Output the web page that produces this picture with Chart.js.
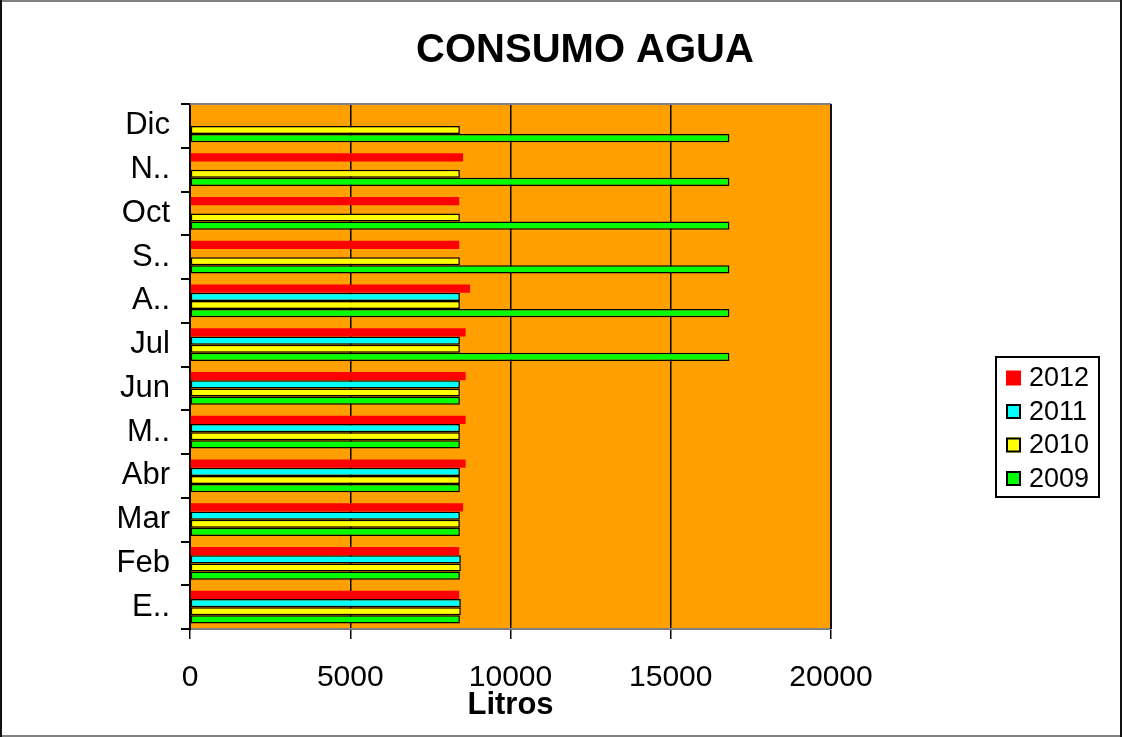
<!DOCTYPE html>
<html>
<head>
<meta charset="utf-8">
<script src="https://cdn.jsdelivr.net/npm/chart.js@4.4.1/dist/chart.umd.min.js"></script>
<style>
  html, body { margin: 0; padding: 0; background: #fff; }
  canvas { display: block; }
</style>
</head>
<body>
<canvas id="consumo" width="1122" height="737"></canvas>
<script>
// datos
const months = ["E..", "Feb", "Mar", "Abr", "M..", "Jun", "Jul", "A..", "S..", "Oct", "N..", "Dic"];
const years = ["2012", "2011", "2010", "2009"];
const litros2012 = [8400, 8400, 8520, 8600, 8600, 8600, 8600, 8740, 8400, 8400, 8520, null];
const litros2011 = [8450, 8450, 8420, 8420, 8420, 8420, 8420, 8420, null, null, null, null];
const litros2010 = [8450, 8450, 8420, 8420, 8420, 8420, 8420, 8420, 8420, 8420, 8420, 8420];
const litros2009 = [8420, 8420, 8420, 8420, 8420, 8420, 16830, 16830, 16830, 16830, 16830, 16830];
const xTicks = [0, 5000, 10000, 15000, 20000];

const colors = ["#FF0000", "#00FFFF", "#FFFF00", "#00FF00"];
const series = [litros2012, litros2011, litros2010, litros2009];
const FONT = "'Liberation Sans', Arial, sans-serif";

const plotBackground = {
	id: "plotBackground",
	afterLayout(chart) {
		// el título va centrado sobre todo el gráfico, no sólo sobre el área
		const t = chart.titleBlock;
		if (t) {
			t.left = 48;
			t.right = 1122;
		}
	},
	beforeDraw(chart) {
		const { ctx, chartArea: a } = chart;
		ctx.save();
		ctx.fillStyle = "#FFA000";
		ctx.fillRect(a.left, a.top, a.right - a.left, a.bottom - a.top);
		ctx.restore();
	},
	beforeDatasetsDraw(chart) {
		const { ctx, chartArea: a } = chart;
		ctx.save();
		ctx.strokeStyle = "#808080";
		ctx.lineWidth = 2;
		ctx.beginPath();
		ctx.moveTo(a.left, a.top);
		ctx.lineTo(a.right, a.top);
		ctx.stroke();
		ctx.strokeStyle = "#111";
		ctx.beginPath();
		ctx.moveTo(a.right, a.top);
		ctx.lineTo(a.right, a.bottom);
		ctx.stroke();
		ctx.restore();
	},
	afterDraw(chart) {
		const { ctx, width, height } = chart;
		ctx.save();
		ctx.lineWidth = 2;
		ctx.strokeStyle = "#808080";
		ctx.beginPath();
		ctx.moveTo(0, 1); ctx.lineTo(width, 1);
		ctx.moveTo(0, height - 1); ctx.lineTo(width, height - 1);
		ctx.stroke();
		ctx.strokeStyle = "#111";
		ctx.beginPath();
		ctx.moveTo(1, 0); ctx.lineTo(1, height);
		ctx.moveTo(width - 1, 0); ctx.lineTo(width - 1, height);
		ctx.stroke();
		ctx.restore();
	},
};

// leyenda con marco, a la derecha
const boxedLegend = {
	id: "boxedLegend",
	afterDraw(chart) {
		const { ctx } = chart;
		const left = 996, top = 357, w = 103, h = 140;
		ctx.save();
		ctx.lineWidth = 2;
		ctx.strokeStyle = "#000";
		ctx.strokeRect(left, top, w, h);
		ctx.font = "27px " + FONT;
		ctx.textBaseline = "middle";
		chart.data.datasets.forEach((ds, i) => {
			const y = 378 + i * 33.5;
			ctx.fillStyle = ds.backgroundColor;
			ctx.fillRect(1006, y - 7.5, 15, 15);
			if (ds.borderWidth > 0) {
				ctx.strokeStyle = "#000";
				ctx.lineWidth = 2;
				ctx.strokeRect(1007, y - 6.5, 13, 13);
			}
			ctx.fillStyle = "#000";
			ctx.fillText(ds.label, 1029, y + 1);
		});
		ctx.restore();
	},
};

new Chart(document.getElementById("consumo"), {
	type: "bar",
	data: {
		labels: months,
		datasets: years.map((y, i) => ({
			label: y,
			data: series[i],
			backgroundColor: colors[i],
			borderColor: i === 0 ? colors[i] : "#000",
			borderWidth: i === 0 ? 0 : 1.5,
			borderSkipped: false,
			barPercentage: 1,
			categoryPercentage: 0.75,
		})),
	},
	options: {
		indexAxis: "y",
		responsive: false,
		animation: false,
		devicePixelRatio: 1,
		layout: { padding: { left: 0, right: 291, top: 0, bottom: 0 } },
		plugins: {
			legend: { display: false },
			tooltip: { enabled: false },
			title: {
				display: true,
				text: "CONSUMO AGUA",
				color: "#000",
				font: { family: FONT, size: 40, weight: "bold" },
				padding: { top: 27, bottom: 29 },
			},
		},
		scales: {
			x: {
				min: 0,
				max: 20000,
				afterBuildTicks: (scale) => {
					scale.ticks = xTicks.map((v) => ({ value: v }));
				},
				afterFit: (scale) => {
					scale.height = 108;
				},
				ticks: {
					color: "#000",
					font: { family: FONT, size: 30 },
					padding: 21,
					maxRotation: 0,
					callback: (v) => String(v),
				},
				grid: { color: "#000", lineWidth: 1.5, tickLength: 10 },
				border: { color: "#808080", width: 2 },
				title: {
					display: true,
					text: "Litros",
					color: "#000",
					font: { family: FONT, size: 31, weight: "bold" },
					padding: { top: 0, bottom: 13 },
				},
			},
			y: {
				reverse: true,
				afterFit: (scale) => {
					scale.width = 190;
				},
				ticks: {
					color: "#000",
					font: { family: FONT, size: 31 },
					padding: 11,
				},
				grid: {
					drawOnChartArea: false,
					drawTicks: true,
					tickLength: 9,
					color: "#000",
					lineWidth: 2,
					offset: true,
				},
				border: { color: "#000", width: 2 },
			},
		},
	},
	plugins: [plotBackground, boxedLegend],
});
</script>
</body>
</html>
